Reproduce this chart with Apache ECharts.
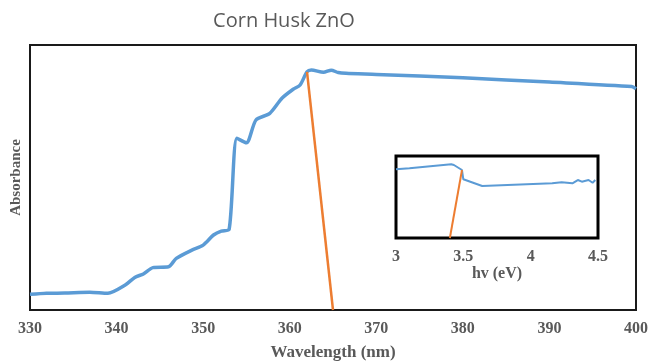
<!DOCTYPE html>
<html>
<head>
<meta charset="utf-8">
<script src="https://cdn.jsdelivr.net/npm/echarts@6/dist/echarts.min.js"></script>
<style>
  html, body { margin: 0; padding: 0; background: #fff; }
  #chart { width: 650px; height: 361px; }
</style>
</head>
<body>
<div id="chart"></div>
<script>
// Absorption spectrum (wavelength in nm, absorbance in arbitrary units)
const wavelength = [330, 331.9, 334, 336.9, 339.0, 341.0, 342.1, 343.1, 344.2, 346.0, 346.9, 348.7, 350.0, 351.2, 352.1, 353.0, 353.9, 355.0, 356.1, 357.7, 359.1, 360.4, 361.2, 362.0, 362.5, 363.9, 364.8, 365.6, 366.5, 370, 380, 390, 399.5, 400];
const absorbance = [0.059, 0.063, 0.064, 0.067, 0.063, 0.094, 0.123, 0.136, 0.160, 0.163, 0.195, 0.226, 0.245, 0.283, 0.298, 0.304, 0.648, 0.631, 0.717, 0.742, 0.799, 0.833, 0.849, 0.899, 0.906, 0.897, 0.905, 0.896, 0.893, 0.889, 0.876, 0.860, 0.843, 0.835];

// Band-edge tangent on the spectrum
const tangentWavelength = [362.0, 365.0];
const tangentAbsorbance = [0.899, 0];

// Inset: absorbance against photon energy
const energy = [3.0, 3.10, 3.11, 3.41, 3.43, 3.49, 3.50, 3.64, 4.16, 4.23, 4.31, 4.35, 4.38, 4.43, 4.46, 4.48];
const energyAbs = [0.838, 0.850, 0.829, 0.899, 0.890, 0.829, 0.716, 0.634, 0.667, 0.679, 0.667, 0.707, 0.687, 0.707, 0.674, 0.707];
const insetTangentEnergy = [3.49, 3.40];
const insetTangentAbs = [0.829, 0];

const mainTicks = [330, 340, 350, 360, 370, 380, 390, 400];
const insetTicks = [3, 3.5, 4, 4.5];

const pair = (xs, ys) => xs.map((x, i) => [x, ys[i]]);

const serifBold = (size) => ({
  fontFamily: 'Liberation Serif', fontWeight: 'bold', fontSize: size, color: '#595959'
});

const chart = echarts.init(document.getElementById('chart'), null, { renderer: 'canvas' });

chart.setOption({
  animation: false,
  backgroundColor: '#fff',
  graphic: [{
    type: 'text',
    x: 284, y: 21,
    style: {
      text: 'Corn Husk ZnO',
      fontFamily: 'Open Sans', fontSize: 20, fill: '#595959',
      textAlign: 'center', textVerticalAlign: 'middle'
    }
  }],
  grid: [
    { left: 30, right: 14, top: 45, bottom: 51, outerBoundsMode: 'none', containLabel: false,
      show: true, borderColor: '#1a1a1a', borderWidth: 2, backgroundColor: 'transparent' },
    { left: 396, top: 156, width: 202, height: 82, outerBoundsMode: 'none', containLabel: false,
      show: true, borderColor: '#000', borderWidth: 3, backgroundColor: '#fff', z: 10 }
  ],
  xAxis: [
    {
      type: 'value', gridIndex: 0, min: 330, max: 400, interval: 10,
      name: 'Wavelength (nm)', nameLocation: 'middle', nameGap: 34,
      nameTextStyle: serifBold(17),
      axisLine: { show: false }, axisTick: { show: false }, splitLine: { show: false },
      axisLabel: Object.assign(serifBold(16), {
        margin: 11,
        formatter: v => mainTicks.includes(v) ? String(v) : ''
      })
    },
    {
      type: 'value', gridIndex: 1, min: 3, max: 4.5, interval: 0.5,
      name: 'hv (eV)', nameLocation: 'middle', nameGap: 24,
      nameTextStyle: serifBold(16),
      axisLine: { show: false }, axisTick: { show: false }, splitLine: { show: false },
      axisLabel: Object.assign(serifBold(16), {
        margin: 11,
        formatter: v => insetTicks.includes(v) ? String(v) : ''
      }),
      z: 10
    }
  ],
  yAxis: [
    {
      type: 'value', gridIndex: 0, min: 0, max: 1,
      name: 'Absorbance', nameLocation: 'middle', nameGap: 6,
      nameTextStyle: serifBold(15),
      axisLine: { show: false }, axisTick: { show: false },
      axisLabel: { show: false }, splitLine: { show: false }
    },
    {
      type: 'value', gridIndex: 1, min: 0, max: 1,
      axisLine: { show: false }, axisTick: { show: false },
      axisLabel: { show: false }, splitLine: { show: false }
    }
  ],
  series: [
    {
      type: 'line', xAxisIndex: 0, yAxisIndex: 0,
      data: pair(wavelength, absorbance), smooth: 0.25,
      showSymbol: false, lineStyle: { color: '#5B9BD5', width: 3.5 }
    },
    {
      type: 'line', xAxisIndex: 0, yAxisIndex: 0,
      data: pair(tangentWavelength, tangentAbsorbance),
      showSymbol: false, lineStyle: { color: '#ED7D31', width: 2.5 }
    },
    {
      type: 'line', xAxisIndex: 1, yAxisIndex: 1,
      data: pair(energy, energyAbs), z: 11,
      showSymbol: false, lineStyle: { color: '#5B9BD5', width: 2 }
    },
    {
      type: 'line', xAxisIndex: 1, yAxisIndex: 1,
      data: pair(insetTangentEnergy, insetTangentAbs), z: 11,
      showSymbol: false, lineStyle: { color: '#ED7D31', width: 2 }
    }
  ]
});
</script>
</body>
</html>
